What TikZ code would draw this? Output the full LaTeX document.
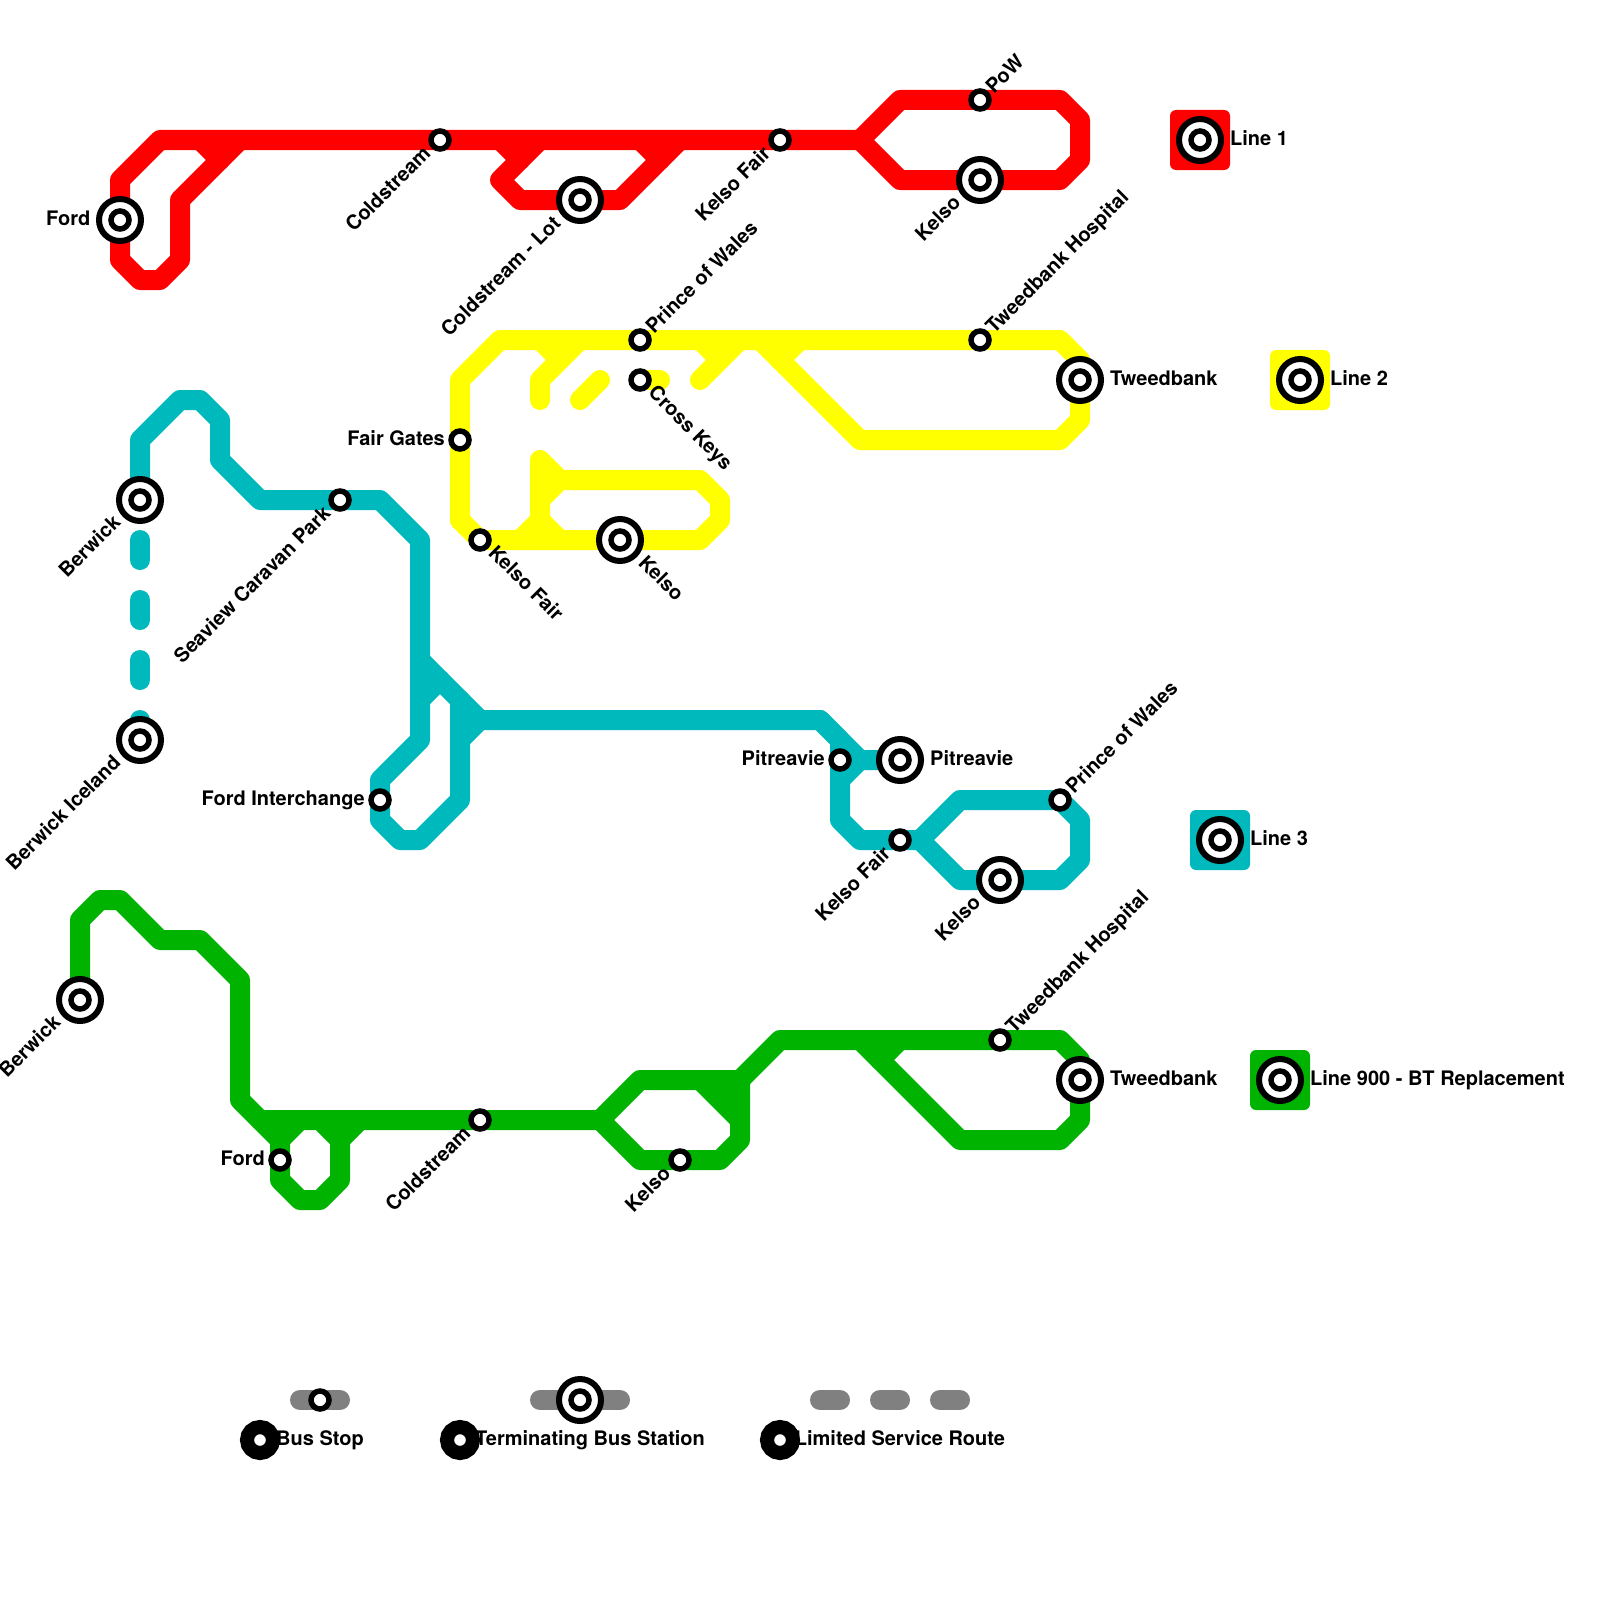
\documentclass[tikz,border=0pt]{standalone}
\usepackage{fontspec}
\setmainfont{TeX Gyre Heros}
\definecolor{lred}{HTML}{FF0000}
\definecolor{lyellow}{HTML}{FFFF00}
\definecolor{lteal}{HTML}{00B9BC}
\definecolor{lgreen}{HTML}{00B300}
\definecolor{lgrey}{HTML}{808080}
\tikzset{
  route/.style={line width=20pt,line join=round,line cap=round},
  redline/.style={route,draw=lred},
  yellowline/.style={route,draw=lyellow},
  tealline/.style={route,draw=lteal},
  greenline/.style={route,draw=lgreen},
  greyline/.style={route,draw=lgrey},
  keybox/.style={rectangle,rounded corners=6pt,minimum size=60pt,inner sep=0pt},
  stopmark/.style={circle,draw=black,fill=white,line width=5.5pt,minimum size=18pt,inner sep=0pt},
  termmark/.style={circle,draw=black,fill=white,line width=6pt,minimum size=42pt,inner sep=0pt},
  keydot/.style={circle,draw=black,fill=white,line width=14pt,minimum size=26pt,inner sep=0pt},
  lbl/.style={font=\fontsize{20pt}{22pt}\selectfont\bfseries,inner sep=0pt,text=black},
  lbe/.style={lbl,anchor=mid east},
  lbw/.style={lbl,anchor=mid west},
  lbsw/.style={lbl,anchor=mid east,rotate=45},
  lbne/.style={lbl,anchor=mid west,rotate=45},
  lbse/.style={lbl,anchor=mid west,rotate=-45},
}
\newcommand{\termst}[2]{\node[termmark] (#1) at #2 {}; \node[stopmark] (#1c) at #2 {};}
\newcommand{\stopst}[2]{\node[stopmark] (#1) at #2 {};}
\begin{document}
\begin{tikzpicture}[x=1pt,y=-1pt]
\useasboundingbox (0,0) rectangle (1600,1600);
\fill[white] (0,0) rectangle (1600,1600);
% named station positions
\coordinate (pA) at (120,220); \coordinate (pB) at (440,140); \coordinate (pC) at (580,200);
\coordinate (pD) at (780,140); \coordinate (pE) at (980,100); \coordinate (pF) at (980,180);
\coordinate (qA) at (640,340); \coordinate (qB) at (640,380); \coordinate (qC) at (460,440);
\coordinate (qD) at (480,540); \coordinate (qE) at (620,540); \coordinate (qF) at (980,340);
\coordinate (qG) at (1080,380);
\coordinate (rA) at (140,500); \coordinate (rB) at (140,740); \coordinate (rC) at (340,500);
\coordinate (rD) at (380,800); \coordinate (rE) at (840,760); \coordinate (rF) at (900,760);
\coordinate (rG) at (900,840); \coordinate (rH) at (1060,800); \coordinate (rI) at (1000,880);
\coordinate (sA) at (80,1000); \coordinate (sB) at (280,1160); \coordinate (sC) at (480,1120);
\coordinate (sD) at (680,1160); \coordinate (sE) at (1000,1040); \coordinate (sF) at (1080,1080);
% key squares
\node[keybox,fill=lred] (kR) at (1200,140) {};
\node[keybox,fill=lyellow] (kY) at (1300,380) {};
\node[keybox,fill=lteal] (kT) at (1220,840) {};
\node[keybox,fill=lgreen] (kG) at (1280,1080) {};
% red
\draw[redline] (pA) -- (120,180) -- (160,140) -- (860,140) -- (900,100) -- (1060,100) -- (1080,120) -- (1080,160) -- (1060,180) -- (900,180) -- (860,140);
\draw[redline] (pA) -- (120,260) -- (140,280) -- (160,280) -- (180,260) -- (180,200) -- (240,140);
\draw[redline] (200,140) -- (220,160);
\draw[redline] (500,140) -- (520,160) -- (500,180) -- (520,200) -- (620,200) -- (680,140);
\draw[redline] (520,160) -- (540,140);
\draw[redline] (640,140) -- (660,160);
% yellow
\draw[yellowline] (460,520) -- (460,380) -- (500,340) -- (1060,340) -- (1080,360) -- (1080,420) -- (1060,440) -- (860,440) -- (760,340);
\draw[yellowline] (460,520) -- (480,540) -- (700,540) -- (720,520) -- (720,500) -- (700,480) -- (560,480) -- (540,460) -- (540,520) -- (560,540);
\draw[yellowline] (540,500) -- (560,480);
\draw[yellowline] (520,540) -- (540,520);
\draw[yellowline] (540,340) -- (560,360);
\draw[yellowline] (580,340) -- (540,380) -- (540,400);
\draw[yellowline] (580,400) -- (600,380);
\draw[yellowline] (qB) -- (660,380);
\draw[yellowline] (700,340) -- (720,360);
\draw[yellowline] (740,340) -- (700,380);
\draw[yellowline] (780,360) -- (800,340);
% teal
\draw[tealline] (rA) -- (140,440) -- (180,400) -- (200,400) -- (220,420) -- (220,460) -- (260,500) -- (380,500) -- (420,540) -- (420,740) -- (380,780) -- (380,820) -- (400,840) -- (420,840) -- (460,800) -- (460,700);
\draw[tealline] (420,660) -- (480,720) -- (820,720) -- (860,760) -- (rF);
\draw[tealline] (420,700) -- (440,680);
\draw[tealline] (460,740) -- (480,720);
\draw[tealline] (820,720) -- (840,740) -- (840,820) -- (860,840) -- (920,840) -- (960,800) -- (1060,800) -- (1080,820) -- (1080,860) -- (1060,880) -- (960,880) -- (920,840);
\draw[tealline] (840,780) -- (860,760);
\draw[tealline] (140,540) -- (140,560);
\draw[tealline] (140,600) -- (140,620);
\draw[tealline] (140,660) -- (140,680);
\draw[tealline] (140,720) -- (rB);
% green
\draw[greenline] (sA) -- (80,920) -- (100,900) -- (120,900) -- (160,940) -- (200,940) -- (240,980) -- (240,1100) -- (280,1140) -- (280,1180) -- (300,1200) -- (320,1200) -- (340,1180) -- (340,1140) -- (360,1120);
\draw[greenline] (260,1120) -- (600,1120) -- (640,1080) -- (740,1080) -- (780,1040) -- (1060,1040) -- (1080,1060) -- (1080,1120) -- (1060,1140) -- (960,1140) -- (860,1040);
\draw[greenline] (600,1120) -- (640,1160) -- (720,1160) -- (740,1140) -- (740,1080);
\draw[greenline] (280,1140) -- (300,1120);
\draw[greenline] (320,1120) -- (340,1140);
\draw[greenline] (700,1080) -- (740,1120);
\draw[greenline] (720,1080) -- (740,1100);
\draw[greenline] (880,1060) -- (900,1040);
% legend routes
\coordinate (gA) at (320,1400); \coordinate (gB) at (580,1400);
\draw[greyline] (300,1400) -- (340,1400);
\draw[greyline] (540,1400) -- (620,1400);
\draw[greyline] (820,1400) -- (840,1400);
\draw[greyline] (880,1400) -- (900,1400);
\draw[greyline] (940,1400) -- (960,1400);
% labels
\node[lbe] (tA) at (90.5,223) {Ford};
\node[lbsw] (tB) at ([shift={(-10,13)}]pB) {Coldstream};
\node[lbsw] (tC) at ([shift={(-20,23)}]pC) {Coldstream - Lot};
\node[lbsw] (tD) at ([shift={(-10,13)}]pD) {Kelso Fair};
\node[lbne] (tE) at ([shift={(12,-7)}]pE) {PoW};
\node[lbsw] (tF) at ([shift={(-20,22)}]pF) {Kelso};
\node[lbne] (uA) at ([shift={(12,-7)}]qA) {Prince of Wales};
\node[lbse] (uB) at ([shift={(9,12)}]qB) {Cross Keys};
\node[lbe] (uC) at (445,443) {Fair Gates};
\node[lbse] (uD) at ([shift={(9,12)}]qD) {Kelso Fair};
\node[lbse] (uE) at ([shift={(19,22)}]qE) {Kelso};
\node[lbne] (uF) at ([shift={(12,-7)}]qF) {Tweedbank Hospital};
\node[lbw] (uG) at (1110,383) {Tweedbank};
\node[lbsw] (vA) at ([shift={(-20,22)}]rA) {Berwick};
\node[lbsw] (vB) at ([shift={(-20,22)}]rB) {Berwick Iceland};
\node[lbsw] (vC) at ([shift={(-10,13)}]rC) {Seaview Caravan Park};
\node[lbe] (vD) at (365,803) {Ford Interchange};
\node[lbe] (vE) at (825,763) {Pitreavie};
\node[lbw] (vF) at (930,763) {Pitreavie};
\node[lbsw] (vG) at ([shift={(-10,13)}]rG) {Kelso Fair};
\node[lbne] (vH) at ([shift={(12,-7)}]rH) {Prince of Wales};
\node[lbsw] (vI) at ([shift={(-20,22)}]rI) {Kelso};
\node[lbsw] (wA) at ([shift={(-20,22)}]sA) {Berwick};
\node[lbe] (wB) at (265,1163) {Ford};
\node[lbsw] (wC) at ([shift={(-10,13)}]sC) {Coldstream};
\node[lbsw] (wD) at ([shift={(-10,13)}]sD) {Kelso};
\node[lbne] (wE) at ([shift={(12,-7)}]sE) {Tweedbank Hospital};
\node[lbw] (wF) at (1110,1083) {Tweedbank};
\node[lbw] (xR) at (1230,143) {Line 1};
\node[lbw] (xY) at (1330,383) {Line 2};
\node[lbw] (xT) at (1250,843) {Line 3};
\node[lbw] (xG) at (1310,1083) {Line 900 - BT Replacement};
\node[lbl,anchor=mid] (yA) at (320,1443) {Bus Stop};
\node[lbl,anchor=mid] (yB) at (590,1443) {Terminating Bus Station};
\node[lbl,anchor=mid] (yC) at (900,1443) {Limited Service Route};
% stations
\termst{Ford}{(pA)} \stopst{Cold}{(pB)} \termst{Lot}{(pC)} \stopst{KF}{(pD)} \stopst{PoW}{(pE)} \termst{Kel}{(pF)}
\stopst{PW}{(qA)} \stopst{CK}{(qB)} \stopst{FG}{(qC)} \stopst{KF2}{(qD)} \termst{Kel2}{(qE)} \stopst{TH}{(qF)} \termst{Tw}{(qG)}
\termst{Be}{(rA)} \termst{BI}{(rB)} \stopst{SC}{(rC)} \stopst{FI}{(rD)} \stopst{Pi}{(rE)} \termst{Pi2}{(rF)} \stopst{KF3}{(rG)} \stopst{PW3}{(rH)} \termst{Kel3}{(rI)}
\termst{Be4}{(sA)} \stopst{Fo4}{(sB)} \stopst{Co4}{(sC)} \stopst{Ke4}{(sD)} \stopst{TH4}{(sE)} \termst{Tw4}{(sF)}
\termst{k1}{(1200,140)} \termst{k2}{(1300,380)} \termst{k3}{(1220,840)} \termst{k4}{(1280,1080)}
\stopst{g1}{(gA)} \termst{g2}{(gB)}
\node[keydot] (d1) at (260,1440) {};
\node[keydot] (d2) at (460,1440) {};
\node[keydot] (d3) at (780,1440) {};
\end{tikzpicture}
\end{document}
